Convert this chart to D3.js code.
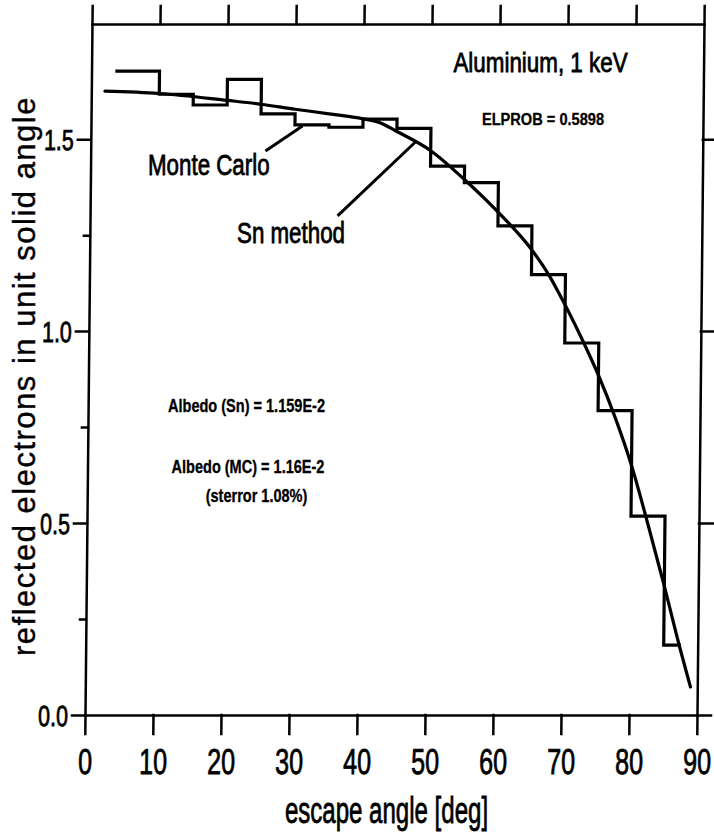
<!DOCTYPE html>
<html>
<head>
<meta charset="utf-8">
<script src="https://cdn.jsdelivr.net/npm/d3@7"></script>
<style>
  html, body { margin: 0; padding: 0; background: #fff; }
  svg { display: block; }
  text { font-family: "Liberation Sans", Arial, sans-serif; fill: #000; }
</style>
</head>
<body>
<svg id="chart" width="714" height="834"></svg>
<script>
// Angular distribution of backscattered electrons: aluminium, 1 keV.
// Monte Carlo histogram against the Sn-method solution.

const xTicks = [0, 10, 20, 30, 40, 50, 60, 70, 80, 90];
const yTicks = [0.0, 0.5, 1.0, 1.5];
const yMinorTicks = [0.25, 0.75, 1.25];

// Monte Carlo histogram: bin edges [deg] and heights
const mcEdges = [3.5, 10, 15, 20, 25, 30, 35, 40, 45, 50, 55, 60, 65, 70, 75, 80, 85, 87.5];
const mcValues = [1.677, 1.617, 1.589, 1.656, 1.566, 1.537, 1.531, 1.552, 1.528,
                  1.430, 1.387, 1.274, 1.147, 0.969, 0.793, 0.518, 0.182];

// Sn-method curve
const snAngles = [2, 10, 20, 25, 30, 35, 40, 42.5, 45, 50, 55, 60, 65, 67.5, 70,
                  72.5, 75, 77.5, 80, 82.5, 85, 87, 89];
const snValues = [1.625, 1.619, 1.601, 1.591, 1.578, 1.566, 1.553, 1.543, 1.520,
                  1.470, 1.395, 1.310, 1.212, 1.148, 1.068, 0.980, 0.885, 0.776,
                  0.650, 0.497, 0.336, 0.200, 0.073];

// Leader lines from the curve labels: [angle, value] end points
const mcLeader = [[25.7, 1.469], [31.1, 1.534]];
const snLeader = [[36.4, 1.300], [47.7, 1.492]];

const svg = d3.select("#chart");

const mLeft = 85, mRight = 697, mTop = 24, mBottom = 715;
const x = d3.scaleLinear().domain([0, 90]).range([mLeft, mRight]);
const y = d3.scaleLinear().domain([0, 1.8]).range([mBottom, mTop]);

// the plotted frame leans slightly; shear everything about the bottom edge
const plot = svg.append("g")
  .attr("transform", `translate(0,${mBottom}) skewX(-0.58) translate(0,${-mBottom})`);

function styleAxis(g) {
  g.selectAll("path, line").attr("stroke", "#000").attr("stroke-width", 2.5)
    .attr("stroke-linecap", "square");
}

// bottom axis with labels
const gx = plot.append("g").attr("transform", `translate(0,${mBottom})`)
  .call(d3.axisBottom(x).tickValues(xTicks).tickSize(19).tickSizeOuter(0));
styleAxis(gx);
gx.selectAll("text")
  .attr("y", 59).attr("dy", 0)
  .attr("font-size", 36)
  .attr("stroke", "#000").attr("stroke-width", 0.8)
  .attr("transform", "scale(0.7,1)");

// top axis
const gt = plot.append("g").attr("transform", `translate(0,${mTop})`)
  .call(d3.axisTop(x).tickValues(xTicks).tickSize(18).tickSizeOuter(0).tickFormat(""));
styleAxis(gt);

// left axis with labels
const ySx = 0.74;
const gy = plot.append("g").attr("transform", `translate(${mLeft},0)`)
  .call(d3.axisLeft(y).tickValues(yTicks).tickSize(13).tickSizeOuter(0).tickFormat(d3.format(".1f")));
styleAxis(gy);
gy.selectAll("text")
  .attr("x", -17 / ySx).attr("dy", 10.5)
  .attr("font-size", 29)
  .attr("stroke", "#000").attr("stroke-width", 0.8)
  .attr("transform", `scale(${ySx},1)`);

const gym = plot.append("g").attr("transform", `translate(${mLeft},0)`)
  .call(d3.axisLeft(y).tickValues(yMinorTicks).tickSize(6).tickSizeOuter(0).tickFormat(""));
styleAxis(gym);
gym.select(".domain").remove();

// right axis
const gr = plot.append("g").attr("transform", `translate(${mRight},0)`)
  .call(d3.axisRight(y).tickValues(yTicks).tickSize(14).tickSizeOuter(0).tickFormat(""));
styleAxis(gr);

// Monte Carlo histogram as a step line
const steps = [];
mcValues.forEach((v, i) => {
  steps.push([mcEdges[i], v]);
  steps.push([mcEdges[i + 1], v]);
});
const line = d3.line().x(d => x(d[0])).y(d => y(d[1]));
plot.append("path")
  .attr("d", line(steps))
  .attr("fill", "none").attr("stroke", "#000").attr("stroke-width", 3.2)
  .attr("stroke-linejoin", "miter");

// Sn-method curve
const snLine = d3.line().x(d => x(d[0])).y(d => y(d[1])).curve(d3.curveMonotoneX);
plot.append("path")
  .attr("d", snLine(snAngles.map((a, i) => [a, snValues[i]])))
  .attr("fill", "none").attr("stroke", "#000").attr("stroke-width", 3.2)
  .attr("stroke-linecap", "round");

// leaders
[mcLeader, snLeader].forEach(l => {
  plot.append("path").attr("d", line(l))
    .attr("fill", "none").attr("stroke", "#000").attr("stroke-width", 3);
});

// text helper: horizontally condensed plotter-style lettering
function label(str, px, py, size, sx, anchor, weightStroke, weight) {
  const g = svg.append("g").attr("transform", `translate(${px},${py}) scale(${sx},1)`);
  g.append("text")
    .attr("text-anchor", anchor)
    .attr("font-size", size)
    .attr("font-weight", weight || "normal")
    .attr("stroke", "#000").attr("stroke-width", weightStroke)
    .text(str);
  return g;
}

label("Aluminium, 1 keV", 540.5, 72, 28, 0.8, "middle", 0.8);
label("ELPROB = 0.5898", 543, 125, 17, 0.86, "middle", 0.3, "bold");
label("Monte Carlo", 148, 175, 29, 0.77, "start", 0.8);
label("Sn method", 237, 242.5, 29, 0.77, "start", 0.8);
label("Albedo (Sn) = 1.159E-2", 246.5, 412, 17.5, 0.83, "middle", 0.3, "bold");
label("Albedo (MC) = 1.16E-2", 248, 472.5, 17.5, 0.83, "middle", 0.3, "bold");
label("(sterror 1.08%)", 256.5, 502, 17.5, 0.83, "middle", 0.3, "bold");
label("escape angle [deg]", 386.5, 823, 37, 0.65, "middle", 0.8);

// y-axis title
svg.append("text")
  .attr("transform", "translate(35,376) rotate(-90)")
  .attr("text-anchor", "middle")
  .attr("font-size", 31)
  .attr("letter-spacing", 1.5)
  .attr("stroke", "#000").attr("stroke-width", 0.4)
  .text("reflected electrons in unit solid angle");
</script>
</body>
</html>
